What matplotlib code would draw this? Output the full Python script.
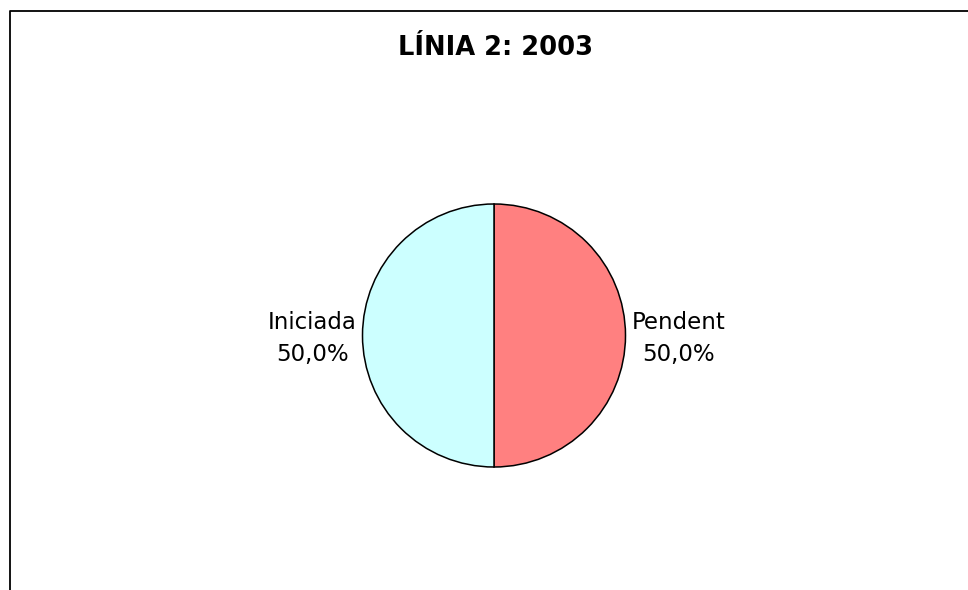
import matplotlib.pyplot as plt
from matplotlib.lines import Line2D

labels = ["Pendent", "Iniciada"]
values = [50.0, 50.0]
colors = ["#FF8080", "#CCFFFF"]

W, H = 968, 590
fig = plt.figure(figsize=(W / 100, H / 100), dpi=100)

# outer frame (only top and left visible, rest falls outside the picture)
fig.add_artist(Line2D([10 / W, 10 / W, 1.0], [0.0, 1 - 11 / H, 1 - 11 / H],
                      transform=fig.transFigure, color="black", lw=1.3))

fig.text(495 / W, 1 - 48 / H, "LÍNIA 2: 2003", ha="center", va="center",
         fontsize=18.5, fontweight="bold", family="DejaVu Sans")

cx, cy, r = 494, H - 335.5, 131.5
ax = fig.add_axes([(cx - r) / W, (cy - r) / H, 2 * r / W, 2 * r / H])

total = sum(values)
texts = [f"{l}\n{v / total * 100:.1f}%".replace(".", ",") for l, v in zip(labels, values)]
wedges, txt = ax.pie(values, labels=texts, colors=colors, startangle=90,
                     counterclock=False, labeldistance=1.045,
                     wedgeprops=dict(edgecolor="black", linewidth=1.1),
                     textprops=dict(fontsize=16.5, multialignment="center",
                                    va="center", linespacing=1.55))
for t in txt:
    t.set_y(t.get_position()[1] - 0.023)
ax.set_xlim(-1, 1)
ax.set_ylim(-1, 1)
ax.set_aspect("auto")
ax.axis("off")

fig.savefig("out.png", dpi=100)
